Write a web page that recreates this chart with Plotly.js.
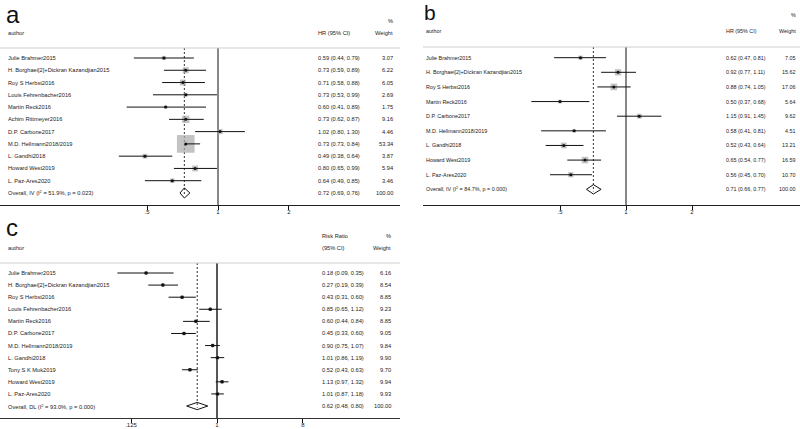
<!DOCTYPE html>
<html><head><meta charset="utf-8">
<script src="https://cdn.plot.ly/plotly-3.0.1.min.js"></script>
<style>html,body{margin:0;padding:0;background:#fff}#chart{width:800px;height:429px}</style>
</head><body><div id="chart"></div>
<script>
// ---------- Panel a (HR, IV) ----------
const authorsA = ["Julie Brahmer2015","H. Borghaei[2]+Dickran Kazandjian2015","Roy S Herbst2016","Louis Fehrenbacher2016","Martin Reck2016","Achim Rittmeyer2016","D.P. Carbone2017","M.D. Hellmann2018/2019","L. Gandhi2018","Howard West2019","L. Paz-Ares2020"];
const estA = [0.59,0.73,0.71,0.73,0.60,0.73,1.02,0.73,0.49,0.80,0.64];
const loA  = [0.44,0.59,0.58,0.53,0.41,0.62,0.80,0.73,0.38,0.65,0.49];
const hiA  = [0.79,0.89,0.88,0.99,0.89,0.87,1.30,0.84,0.64,0.99,0.85];
const wtA  = [3.07,6.22,6.05,2.69,1.75,9.16,4.46,53.34,3.87,5.94,3.46];
const overallLabelA = "Overall, IV (I<sup>2</sup> = 51.9%, p = 0.023)";
const overallA = [0.72,0.69,0.76]; // est, lo, hi
const ticksA = [0.5,1,2], tickTextA = [".5","1","2"];

// ---------- Panel b (HR, IV) ----------
const authorsB = ["Julie Brahmer2015","H. Borghaei[2]+Dickran Kazandjian2015","Roy S Herbst2016","Martin Reck2016","D.P. Carbone2017","M.D. Hellmann2018/2019","L. Gandhi2018","Howard West2019","L. Paz-Ares2020"];
const estB = [0.62,0.92,0.88,0.50,1.15,0.58,0.52,0.65,0.56];
const loB  = [0.47,0.77,0.74,0.37,0.91,0.41,0.43,0.54,0.45];
const hiB  = [0.81,1.11,1.05,0.68,1.45,0.81,0.64,0.77,0.70];
const wtB  = [7.05,15.62,17.06,5.64,9.62,4.51,13.21,16.59,10.70];
const overallLabelB = "Overall, IV (I<sup>2</sup> = 84.7%, p = 0.000)";
const overallB = [0.71,0.66,0.77];
const ticksB = [0.5,1,2], tickTextB = [".5","1","2"];

// ---------- Panel c (Risk Ratio, DL) ----------
const authorsC = ["Julie Brahmer2015","H. Borghaei[2]+Dickran Kazandjian2015","Roy S Herbst2016","Louis Fehrenbacher2016","Martin Reck2016","D.P. Carbone2017","M.D. Hellmann2018/2019","L. Gandhi2018","Tony S K Mok2019","Howard West2019","L. Paz-Ares2020"];
const estC = [0.18,0.27,0.43,0.85,0.60,0.45,0.90,1.01,0.52,1.13,1.01];
const loC  = [0.09,0.19,0.31,0.65,0.44,0.33,0.75,0.86,0.43,0.97,0.87];
const hiC  = [0.35,0.39,0.60,1.12,0.84,0.60,1.07,1.19,0.63,1.32,1.18];
const wtC  = [6.16,8.54,8.85,9.23,8.85,9.05,9.84,9.90,9.70,9.94,9.93];
const overallLabelC = "Overall, DL (I<sup>2</sup> = 93.0%, p = 0.000)";
const overallC = [0.62,0.48,0.80];
const ticksC = [0.125,1,8], tickTextC = [".125","1","8"];

const W = 800, H = 429;
const px = x => x / W;
const py = y => (H - y) / H;
const FONT = "Liberation Sans, Arial, sans-serif";
const NARROW = "Liberation Sans Narrow, Liberation Sans, Arial, sans-serif";
const TXT = "#222";

const traces = [], annotations = [], shapes = [];

function panel(p) {
  const n = p.authors.length;
  const ov = n; // overall row index
  const xr = p.xa, yr = p.ya;
  traces.push({x:[1,1], y:[p.yTop, p.yBot], xaxis:xr, yaxis:yr, mode:"lines",
    line:{color:p.refColor, width:p.refWidth}, hoverinfo:"skip"});
  traces.push({x:[p.overall[0], p.overall[0]], y:[p.yTop, ov + p.dh*0.45], xaxis:xr, yaxis:yr, mode:"lines",
    line:{color:"#333", width:1, dash:"2px,2px"}, hoverinfo:"skip"});
  const rows = p.authors.map((_, i) => i);
  traces.push({x:p.est, y:rows, xaxis:xr, yaxis:yr, mode:"markers",
    marker:{symbol:"square", size:p.wt.map(w => Math.max(3, p.sq * Math.sqrt(w))), color:p.sqColor, line:{width:0}},
    hoverinfo:"skip"});
  const cx = [], cy = [];
  for (let i = 0; i < n; i++) { cx.push(p.lo[i], p.hi[i], null); cy.push(i, i, null); }
  traces.push({x:cx, y:cy, xaxis:xr, yaxis:yr, mode:"lines", line:{color:"#111", width:1}, hoverinfo:"skip"});
  traces.push({x:p.est, y:rows, xaxis:xr, yaxis:yr, mode:"markers",
    marker:{symbol:"circle", size:p.dot, color:"#111"}, hoverinfo:"skip"});
  const [e, l, h] = p.overall;
  traces.push({x:[l, e, h, e, l], y:[ov, ov - p.dh, ov, ov + p.dh, ov], xaxis:xr, yaxis:yr, mode:"lines",
    line:{color:"#111", width:1}, hoverinfo:"skip"});

  const allLabels = p.authors.concat([p.overallLabel]);
  const allCI = p.est.map((v, i) => `${v.toFixed(2)} (${p.lo[i].toFixed(2)}, ${p.hi[i].toFixed(2)})`)
    .concat([`${e.toFixed(2)} (${l.toFixed(2)}, ${h.toFixed(2)})`]);
  const allW = p.wt.map(w => w.toFixed(2)).concat(["100.00"]);
  const f = {family:p.font, size:p.fs, color:TXT};
  for (let i = 0; i <= n; i++) {
    annotations.push({xref:"paper", yref:yr, x:px(p.labX), y:i, text:allLabels[i], showarrow:false, xanchor:"left", yanchor:"middle", font:f, borderpad:0});
    annotations.push({xref:"paper", yref:yr, x:px(p.ciX), y:i, text:allCI[i], showarrow:false, xanchor:"left", yanchor:"middle", font:f, borderpad:0});
    annotations.push({xref:"paper", yref:yr, x:px(p.wX), y:i, text:allW[i], showarrow:false, xanchor:"right", yanchor:"middle", font:f, borderpad:0});
  }
  annotations.push({xref:"paper", yref:"paper", x:px(p.labX), y:py(p.headY), text:"author", showarrow:false, xanchor:"left", yanchor:"middle", font:f, borderpad:0});
  annotations.push({xref:"paper", yref:"paper", x:px(p.ciX), y:py(p.headY), text:p.ciHead, showarrow:false, xanchor:"left", yanchor:"middle", font:f, borderpad:0});
  if (p.ciHead2) annotations.push({xref:"paper", yref:"paper", x:px(p.ciX), y:py(p.pctY), text:p.ciHead2, showarrow:false, xanchor:"left", yanchor:"middle", font:f, borderpad:0});
  annotations.push({xref:"paper", yref:"paper", x:px(p.wX), y:py(p.headY), text:"Weight", showarrow:false, xanchor:"right", yanchor:"middle", font:f, borderpad:0});
  annotations.push({xref:"paper", yref:"paper", x:px(p.wX), y:py(p.pctY), text:"%", showarrow:false, xanchor:"right", yanchor:"middle", font:f, borderpad:0});
  annotations.push({xref:"paper", yref:"paper", x:px(p.labX - 2), y:py(p.letterTop), text:p.letter, showarrow:false, xanchor:"left", yanchor:"top", font:{family:FONT, size:p.letterSize, color:"#111"}, borderpad:0});
  shapes.push({type:"line", xref:"paper", yref:"paper", x0:p.ruleX0, x1:p.ruleX1, y0:py(p.ruleY), y1:py(p.ruleY), line:{color:"#cfcfcf", width:1}});
}

panel({authors:authorsA, est:estA, lo:loA, hi:hiA, wt:wtA, overall:overallA, overallLabel:overallLabelA,
  xa:"x", ya:"y", yTop:-0.815, yBot:11.98, dh:0.41, sq:2.42, sqColor:"#a9a9a9", dot:3,
  refColor:"#111", refWidth:1, font:FONT, fs:5.7,
  labX:7, ciX:317, wX:394, headY:33, pctY:21, ciHead:"HR (95% CI)",
  letter:"a", letterTop:0, letterSize:24, ruleX0:0, ruleX1:0.5, ruleY:48});

panel({authors:authorsB, est:estB, lo:loB, hi:hiB, wt:wtB, overall:overallB, overallLabel:overallLabelB,
  xa:"x2", ya:"y2", yTop:-0.73, yBot:10.07, dh:0.32, sq:1.6, sqColor:"#a9a9a9", dot:3,
  refColor:"#111", refWidth:1, font:NARROW, fs:5.4,
  labX:425, ciX:725, wX:797, headY:31, pctY:15, ciHead:"HR (95% CI)",
  letter:"b", letterTop:0, letterSize:21, ruleX0:423/800, ruleX1:1, ruleY:47});

panel({authors:authorsC, est:estC, lo:loC, hi:hiC, wt:wtC, overall:overallC, overallLabel:overallLabelC,
  xa:"x3", ya:"y3", yTop:-0.827, yBot:11.99, dh:0.30, sq:1.1, sqColor:"#888", dot:3.5,
  refColor:"#444", refWidth:1.8, font:FONT, fs:5.7,
  labX:7, ciX:321, wX:392, headY:248, pctY:236, ciHead:"(95% CI)", ciHead2:"Risk Ratio",
  letter:"c", letterTop:213, letterSize:24, ruleX0:0, ruleX1:0.5, ruleY:263});

function xAxis(domain, anchor, range, tv, tt, lc) {
  return {domain, anchor, type:"log", range, tickvals:tv, ticktext:tt, ticks:"outside", ticklen:4,
    tickcolor:"#111", tickwidth:1, showgrid:false, zeroline:false, showline:true, linecolor:lc, linewidth:1,
    ticklabelstandoff:-3,
    tickfont:{family:FONT, size:6, color:TXT}, fixedrange:true};
}
function yAxis(domain, range) {
  return {domain, range, visible:false, showgrid:false, zeroline:false, fixedrange:true};
}

const layout = {
  width:W, height:H, margin:{l:0, r:0, t:0, b:0}, showlegend:false,
  paper_bgcolor:"#fff", plot_bgcolor:"rgba(0,0,0,0)",
  xaxis: xAxis([0, 0.5], "y", [-0.9243, 0.7717], ticksA, tickTextA, "#222"),
  yaxis: yAxis([py(205), py(48)], [11.98, -0.815]),
  xaxis2: xAxis([423/800, 1], "y2", [-0.9259, 0.7936], ticksB, tickTextB, "#222"),
  yaxis2: yAxis([py(205), py(47)], [10.07, -0.73]),
  xaxis3: xAxis([0, 0.5], "y3", [-2.279, 1.922], ticksC, tickTextC, "#333"),
  yaxis3: yAxis([py(418), py(263)], [11.99, -0.827]),
  annotations, shapes
};

Plotly.newPlot("chart", traces, layout, {staticPlot:true, displayModeBar:false});
</script>
</body></html>
